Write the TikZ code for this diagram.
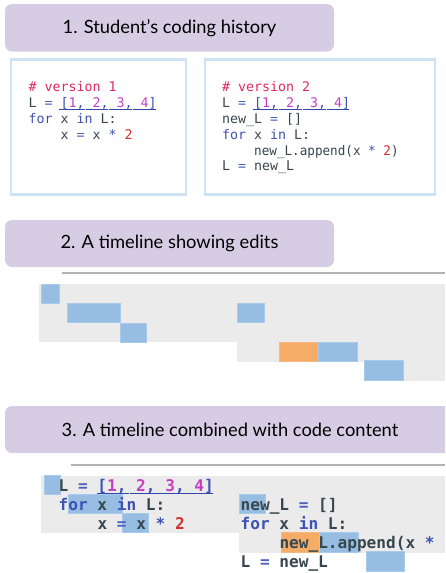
\documentclass[tikz,border=0pt]{standalone}
\usepackage{fontspec}
\setmainfont{Lato}
\setmonofont{DejaVu Sans Mono}
\definecolor{hdr}{HTML}{D6CDE5}
\definecolor{cbord}{HTML}{CFE2F3}
\definecolor{bgray}{HTML}{EBEBEB}
\definecolor{tline}{HTML}{B4B4B4}
\definecolor{eblue}{HTML}{97BDE2}
\definecolor{eblueE}{HTML}{A9CAEA}
\definecolor{eorange}{HTML}{F4AC67}
\definecolor{ident}{HTML}{37474F}
\definecolor{kw}{HTML}{3F51B5}
\definecolor{opc}{HTML}{5060BE}
\definecolor{num}{HTML}{C63EC2}
\definecolor{twored}{HTML}{D32F2F}
\definecolor{cmt}{HTML}{E0285F}
\definecolor{uline}{HTML}{3546A8}
\newcommand\cId[1]{\textcolor{ident}{#1}}
\newcommand\cKw[1]{\textcolor{kw}{#1}}
\newcommand\cOp[1]{\textcolor{opc}{#1}}
\newcommand\cNum[1]{\textcolor{num}{#1}}
\newcommand\cRed[1]{\textcolor{twored}{#1}}
\newcommand\cCm[1]{\textcolor{cmt}{#1}}
\newcommand\cPu[1]{\textcolor{kw}{#1}}
\newcommand\listtxt{\cPu{[}\cNum{1}\cPu{,} \cNum{2}\cPu{,} \cNum{3}\cPu{,} \cNum{4}\cPu{]}}
\begin{document}
\begin{tikzpicture}[x=1pt,y=-1pt,
  hdrbox/.style={fill=hdr,rounded corners=7pt,inner sep=0pt,text=black,font=\fontsize{18.3}{20}\selectfont},
  codebox/.style={draw=cbord,line width=2.2pt,fill=white,inner sep=0pt},
  codeA/.style={anchor=base west,inner sep=0pt,font=\ttfamily\fontsize{13.29}{16}\selectfont},
  codeB/.style={anchor=base west,inner sep=0pt,font=\ttfamily\bfseries\fontsize{16.1}{19}\selectfont},
  blk/.style={fill=eblue,draw=eblueE,line width=0.6pt},
  oblk/.style={fill=eorange,draw=eorange!85!white,line width=0.6pt},
  ul/.style={draw=uline,line width=1pt},
  tl/.style={draw=tline,line width=1.6pt}]
\useasboundingbox (0,0) rectangle (445,573);
\begin{scope}
\clip (0,0) rectangle (445,573);
% ---------- Section 1 ----------
\node[hdrbox,minimum width=329pt,minimum height=47.5pt] (h1) at (169.5,27.75) {1. Student’s coding history};
\node[codebox,minimum width=174.6pt,minimum height=135pt] (c1) at (98.5,127) {};
\node[codebox,minimum width=230pt,minimum height=135pt] (c2) at (320.2,127) {};
% box 1 code
\node[codeA] (a1) at (28.5,91.5) {\cCm{\# version 1}};
\node[codeA] (a2) at (28.5,107.3) {\cId{L} \cOp{=} \listtxt};
\node[codeA] (a3) at (28.5,123) {\cKw{for} \cId{x} \cKw{in} \cId{L:}};
\node[codeA] (a4) at (60.5,139) {\cId{x} \cOp{=} \cId{x} \cKw{*} \cRed{2}};
\draw[ul] (59,109) -- (84.5,109) (85.5,109) -- (108,109) (109,109) -- (132,109) (133,109) -- (155.5,109);
% box 2 code
\node[codeA] (b1) at (222,91.5) {\cCm{\# version 2}};
\node[codeA] (b2) at (222,107.3) {\cId{L} \cOp{=} \listtxt};
\node[codeA] (b3) at (222,123) {\cId{new\_L} \cOp{=} \cId{[]}};
\node[codeA] (b4) at (222,139) {\cKw{for} \cId{x} \cKw{in} \cId{L:}};
\node[codeA] (b5) at (254,155) {\scalebox{0.95}[1]{\cId{new\_L.append(x} \cKw{*} \cRed{2}\cId{)}}};
\node[codeA] (b6) at (222,170.8) {\cId{L} \cOp{=} \cId{new\_L}};
\draw[ul] (252.5,109) -- (277.5,109) (278.5,109) -- (301.5,109) (302.5,109) -- (325.5,109) (326.5,109) -- (349,109);
% ---------- Section 2 ----------
\node[hdrbox,minimum width=329pt,minimum height=47pt] (h2) at (169.5,243.5) {2. A timeline showing edits};
\coordinate (t2s) at (62,273);
\coordinate (t2e) at (445,273);
\draw[tl] (t2s) -- (t2e);
\fill[bgray] (39,284) rectangle (445,342.2);
\fill[bgray] (237,342.2) rectangle (445,361.6);
\fill[bgray] (364,361.6) rectangle (445,381);
\draw[blk] (41,284.3) rectangle (59,303.2);
\draw[blk] (67,303.4) rectangle (120,322.6);
\draw[blk] (120,322.8) rectangle (146,342);
\draw[blk] (237,303.4) rectangle (264,322.6);
\draw[oblk] (279,342.2) rectangle (318,361.6);
\draw[blk] (318,342.2) rectangle (357,361.6);
\draw[blk] (364,360.6) rectangle (403,380);
% ---------- Section 3 ----------
\node[hdrbox,minimum width=450pt,minimum height=47pt] (h3) at (230,429.5) {3. A timeline combined with code content};
\coordinate (t3s) at (71,465);
\coordinate (t3e) at (445,465);
\draw[tl] (t3s) -- (t3e);
\fill[bgray] (41,475.7) rectangle (445,532.7);
\fill[bgray] (238.7,532.7) rectangle (445,552.7);
\draw[blk] (44,475.7) rectangle (60,494.3);
\draw[blk] (68,494.3) rectangle (122,513.7);
\draw[blk] (122,513.7) rectangle (148,532.7);
\draw[blk] (239,494.3) rectangle (265.7,513.7);
\draw[oblk] (281,532.7) rectangle (319,552.7);
\draw[blk] (319,532.7) rectangle (358,552.7);
\draw[blk] (366,551.7) rectangle (404,571.7);
% code
\node[codeB] (d1) at (58.5,491) {\cId{L} \cOp{=} \listtxt};
\node[codeB] (d2) at (58.5,510) {\cKw{for} \cId{x} \cKw{in} \cId{L:}};
\node[codeB] (d3) at (97.3,529) {\cId{x} \cOp{=} \cId{x} \cKw{*} \cRed{2}};
\draw[ul,line width=1.2pt] (97.3,493.5) -- (129.3,493.5) (130.3,493.5) -- (212.5,493.5);
\node[codeB] (e1) at (240.5,510) {\cId{new\_L} \cOp{=} \cId{[]}};
\node[codeB] (e2) at (240.5,529) {\cKw{for} \cId{x} \cKw{in} \cId{L:}};
\node[codeB] (e3) at (279.3,548) {\cId{new\_L.append(x} \cKw{*}};
\node[codeB] (e4) at (240.5,567) {\cId{L} \cOp{=} \cId{new\_L}};
\end{scope}
\end{tikzpicture}
\end{document}
